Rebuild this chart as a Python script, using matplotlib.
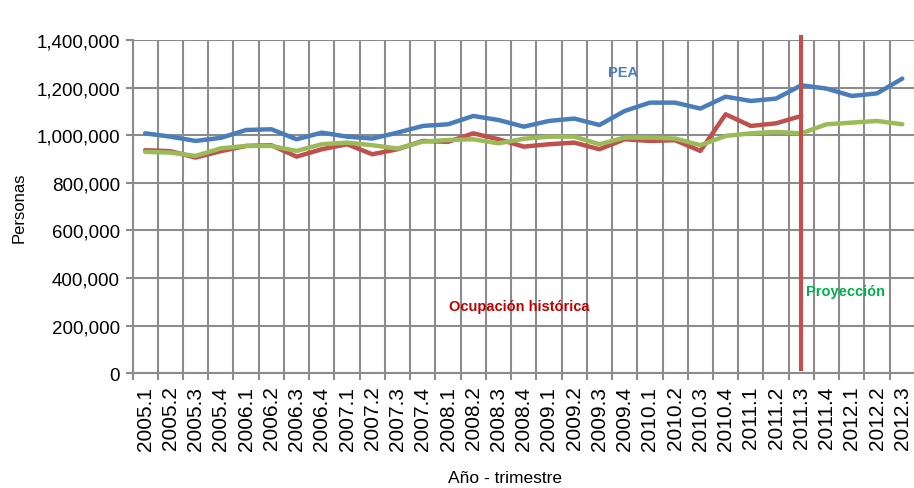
import numpy as np
import matplotlib
matplotlib.use("Agg")
import matplotlib.pyplot as plt
from matplotlib.ticker import FuncFormatter

# Quarter labels (año.trimestre)
quarters = [
    "2005.1", "2005.2", "2005.3", "2005.4", "2006.1", "2006.2", "2006.3", "2006.4",
    "2007.1", "2007.2", "2007.3", "2007.4", "2008.1", "2008.2", "2008.3", "2008.4",
    "2009.1", "2009.2", "2009.3", "2009.4", "2010.1", "2010.2", "2010.3", "2010.4",
    "2011.1", "2011.2", "2011.3", "2011.4", "2012.1", "2012.2", "2012.3",
]

# PEA (población económicamente activa)
pea = [
    1008000, 994000, 976000, 989000, 1022000, 1025000, 983000, 1011000,
    994000, 986000, 1011000, 1039000, 1046000, 1081000, 1064000, 1036000,
    1060000, 1070000, 1043000, 1102000, 1137000, 1137000, 1112000, 1162000,
    1144000, 1154000, 1210000, 1196000, 1165000, 1176000, 1238000,
]

# Ocupación histórica (hasta 2011.3)
ocupacion = [
    937000, 933000, 906000, 933000, 955000, 958000, 910000, 941000,
    962000, 920000, 941000, 976000, 972000, 1008000, 983000, 952000,
    962000, 969000, 941000, 983000, 976000, 979000, 934000, 1088000,
    1039000, 1050000, 1081000,
]

# Proyección de ocupación
proyeccion = [
    930000, 927000, 913000, 945000, 955000, 955000, 934000, 962000,
    969000, 958000, 944000, 973000, 980000, 983000, 966000, 985000,
    994000, 994000, 962000, 990000, 990000, 986000, 958000, 997000,
    1008000, 1014000, 1008000, 1046000, 1053000, 1060000, 1046000,
]

split_quarter = "2011.3"

font = ["Liberation Sans", "DejaVu Sans"]

fig = plt.figure(figsize=(9.14, 4.89), dpi=100)
ax = fig.add_axes([0.145, 0.235, 0.856, 0.681])

x = np.arange(len(quarters))
grid_color = "#8c8c8c"

ax.plot(x, pea, color="#4a7ebb", linewidth=3.2, solid_capstyle="round", zorder=3)
ax.plot(x[:len(ocupacion)], ocupacion, color="#c0504d", linewidth=3.2,
        solid_capstyle="round", zorder=3)
ax.plot(x, proyeccion, color="#9bbb59", linewidth=3.2, solid_capstyle="round", zorder=4)

xs = quarters.index(split_quarter)
ax.plot([xs, xs], [17000, 1412000], color="#c0504d", linewidth=3.0, zorder=5,
        clip_on=False)

ax.set_xlim(-0.5, len(quarters) - 0.5)
ax.set_ylim(0, 1400000)

# category boundaries as major ticks (gridlines), labels at centers
ax.set_xticks(np.arange(-0.5, len(quarters), 1.0))
ax.set_xticklabels([])
ax.set_xticks(x, minor=True)
ax.set_xticklabels(quarters, minor=True, rotation=90, fontsize=15, family=font)
ax.tick_params(axis="x", which="major", length=5, width=1.5, color=grid_color,
               direction="out")
ax.tick_params(axis="x", which="minor", length=0, pad=9)

ax.set_yticks(np.arange(0, 1400001, 200000))
ax.yaxis.set_major_formatter(FuncFormatter(lambda v, p: f"{int(v):,}"))
for lab in ax.get_yticklabels():
    lab.set_family(font)
    lab.set_fontsize(13.5)
ax.tick_params(axis="y", length=5, width=1.5, color=grid_color, pad=4)

ax.grid(True, which="major", color=grid_color, linewidth=1.5, zorder=1)
ax.set_axisbelow(True)
for side in ["top", "right"]:
    ax.spines[side].set_visible(False)
for side in ["left", "bottom"]:
    ax.spines[side].set_color(grid_color)
    ax.spines[side].set_linewidth(1.5)

ax.set_ylabel("Personas", fontsize=12, family=font)
ax.yaxis.set_label_coords(-0.136, 0.5)
ax.set_xlabel("Año - trimestre", fontsize=12.5, family=font)
ax.xaxis.set_label_coords(0.476, -0.291)

ax.text(18.92, 1266000, "PEA", color="#4a7ebb", fontsize=10.5, fontweight="bold",
        family=font, ha="center", va="center")
ax.text(14.84, 283000, "Ocupación histórica", color="#c00000", fontsize=10.5,
        fontweight="bold", family=font, ha="center", va="center")
ax.text(26.19, 346000, "Proyección", color="#00b050", fontsize=10.5,
        fontweight="bold", family=font, ha="left", va="center")

fig.savefig("out.png", dpi=100)
